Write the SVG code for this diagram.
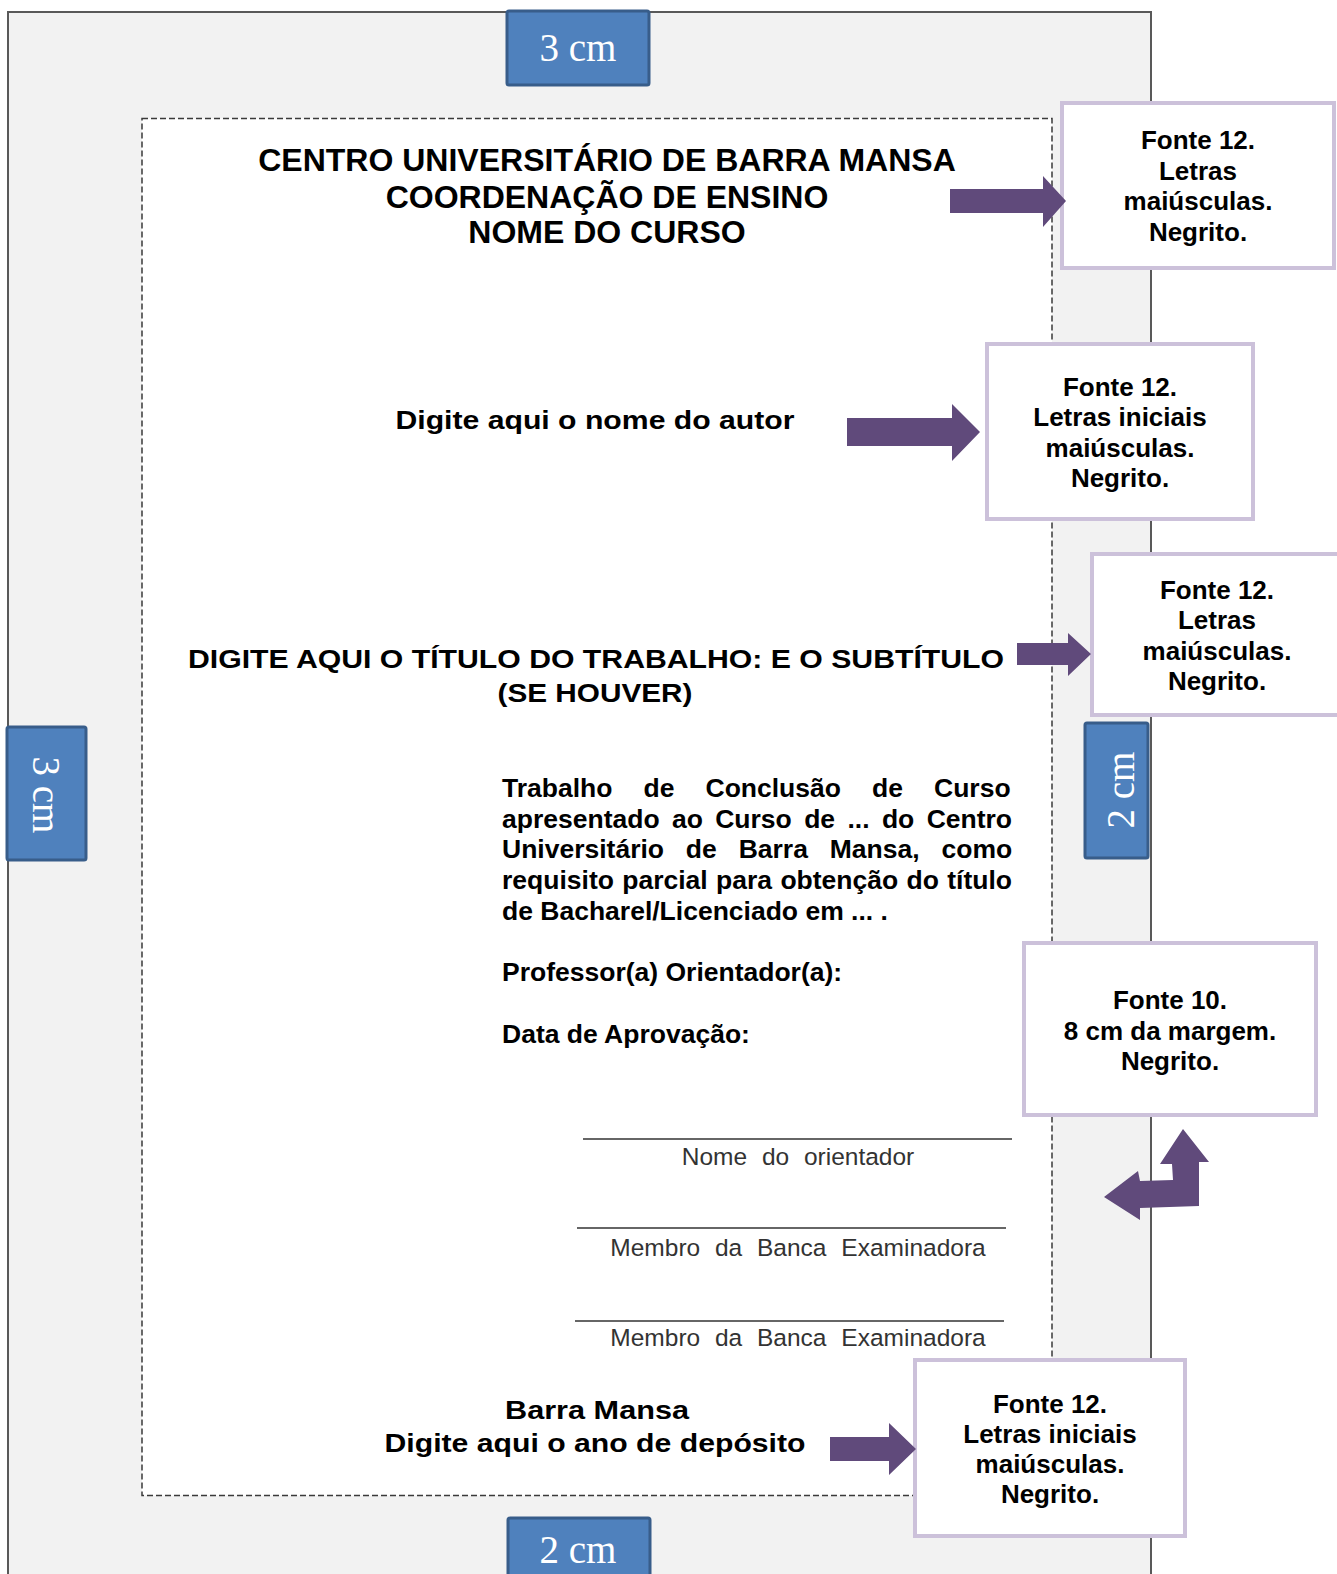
<svg xmlns="http://www.w3.org/2000/svg" width="1337" height="1574" viewBox="0 0 1337 1574">
  <style>
    .page { fill: #f2f2f2; stroke: #595959; stroke-width: 2; }
    .area { fill: #ffffff; stroke: #3a3a3a; stroke-width: 1.5; stroke-dasharray: 6 3; }
    .badge { fill: #4f81bd; stroke: #385d8a; stroke-width: 3; }
    .badge-t { font-family: "Liberation Serif", "Times New Roman", serif; font-size: 39px; fill: #ffffff; text-anchor: middle; }
    .note { fill: #ffffff; stroke: #ccc1da; stroke-width: 4; }
    .note-t { font-family: "Liberation Sans", Arial, sans-serif; font-size: 26px; font-weight: bold; fill: #000; text-anchor: middle; }
    .big { font-family: "Liberation Sans", Arial, sans-serif; font-weight: bold; fill: #000; text-anchor: middle; }
    .body { font-family: "Liberation Sans", Arial, sans-serif; font-size: 26.5px; font-weight: bold; fill: #000; }
    .sig { font-family: "Liberation Sans", Arial, sans-serif; font-size: 24.5px; fill: #333; text-anchor: middle; word-spacing: 8px; }
    .sigline { stroke: #333; stroke-width: 1.5; }
    .arrow { fill: #604a7b; }
  </style>

  <g id="page">
    <rect class="page" x="8" y="12" width="1143" height="1600"/>
    <rect class="area" x="142" y="118.5" width="910" height="1377"/>
  </g>

  <g id="badge-top">
    <rect class="badge" x="507" y="11" width="142" height="74" rx="2"/>
    <text class="badge-t" x="578" y="61">3 cm</text>
  </g>
  <g id="badge-left">
    <rect class="badge" x="7" y="727" width="79" height="133" rx="2"/>
    <text class="badge-t" transform="translate(33,795) rotate(90)" x="0" y="0">3 cm</text>
  </g>
  <g id="badge-right">
    <rect class="badge" x="1085" y="723" width="63" height="135" rx="2"/>
    <text class="badge-t" transform="translate(1134,790) rotate(-90)" x="0" y="0">2 cm</text>
  </g>
  <g id="badge-bottom">
    <rect class="badge" x="508" y="1518" width="142" height="80" rx="2"/>
    <text class="badge-t" x="578" y="1563">2 cm</text>
  </g>

  <g id="header">
    <text class="big" font-size="32" x="607" y="171">CENTRO UNIVERSITÁRIO DE BARRA MANSA</text>
    <text class="big" font-size="32" x="607" y="208">COORDENAÇÃO DE ENSINO</text>
    <text class="big" font-size="32" x="607" y="243">NOME DO CURSO</text>
  </g>

  <g id="author">
    <text class="big" font-size="25.5" x="595" y="429" textLength="399" lengthAdjust="spacingAndGlyphs">Digite aqui o nome do autor</text>
  </g>

  <g id="title">
    <text class="big" font-size="25.5" x="596" y="668" textLength="816" lengthAdjust="spacingAndGlyphs">DIGITE AQUI O TÍTULO DO TRABALHO: E O SUBTÍTULO</text>
    <text class="big" font-size="25.5" x="595" y="702" textLength="195" lengthAdjust="spacingAndGlyphs">(SE HOUVER)</text>
  </g>

  <g id="nature">
    <text class="body" x="502" y="797" word-spacing="23.7">Trabalho de Conclusão de Curso</text>
    <text class="body" x="502" y="828" word-spacing="5">apresentado ao Curso de ... do Centro</text>
    <text class="body" x="502" y="858" word-spacing="14.5">Universitário de Barra Mansa, como</text>
    <text class="body" x="502" y="889" word-spacing="1">requisito parcial para obtenção do título</text>
    <text class="body" x="502" y="920">de Bacharel/Licenciado em ... .</text>
    <text class="body" x="502" y="981">Professor(a) Orientador(a):</text>
    <text class="body" x="502" y="1043">Data de Aprovação:</text>
  </g>

  <g id="signatures">
    <line class="sigline" x1="583" y1="1139" x2="1012" y2="1139"/>
    <text class="sig" x="798" y="1165">Nome do orientador</text>
    <line class="sigline" x1="577" y1="1228" x2="1006" y2="1228"/>
    <text class="sig" x="798" y="1256">Membro da Banca Examinadora</text>
    <line class="sigline" x1="575" y1="1321" x2="1004" y2="1321"/>
    <text class="sig" x="798" y="1346">Membro da Banca Examinadora</text>
  </g>

  <g id="place-year">
    <text class="big" font-size="25.5" x="597" y="1419" textLength="184" lengthAdjust="spacingAndGlyphs">Barra Mansa</text>
    <text class="big" font-size="25.5" x="595" y="1452" textLength="421" lengthAdjust="spacingAndGlyphs">Digite aqui o ano de depósito</text>
  </g>

  <g id="note-header">
    <rect class="note" x="1062" y="103" width="272" height="165"/>
    <text class="note-t" x="1198" y="149">Fonte 12.</text>
    <text class="note-t" x="1198" y="179.5">Letras</text>
    <text class="note-t" x="1198" y="210">maiúsculas.</text>
    <text class="note-t" x="1198" y="240.5">Negrito.</text>
  </g>
  <g id="note-author">
    <rect class="note" x="987" y="344" width="266" height="175"/>
    <text class="note-t" x="1120" y="396">Fonte 12.</text>
    <text class="note-t" x="1120" y="426">Letras iniciais</text>
    <text class="note-t" x="1120" y="456.5">maiúsculas.</text>
    <text class="note-t" x="1120" y="487">Negrito.</text>
  </g>
  <g id="note-title">
    <rect class="note" x="1092" y="554" width="252" height="161"/>
    <text class="note-t" x="1217" y="599">Fonte 12.</text>
    <text class="note-t" x="1217" y="629">Letras</text>
    <text class="note-t" x="1217" y="659.5">maiúsculas.</text>
    <text class="note-t" x="1217" y="690">Negrito.</text>
  </g>
  <g id="note-nature">
    <rect class="note" x="1024" y="943" width="292" height="172"/>
    <text class="note-t" x="1170" y="1009">Fonte 10.</text>
    <text class="note-t" x="1170" y="1040">8 cm da margem.</text>
    <text class="note-t" x="1170" y="1070">Negrito.</text>
  </g>
  <g id="note-year">
    <rect class="note" x="915" y="1360" width="270" height="176"/>
    <text class="note-t" x="1050" y="1413">Fonte 12.</text>
    <text class="note-t" x="1050" y="1442.5">Letras iniciais</text>
    <text class="note-t" x="1050" y="1473">maiúsculas.</text>
    <text class="note-t" x="1050" y="1503">Negrito.</text>
  </g>

  <g id="connectors">
    <polygon class="arrow" points="950,189 1043,189 1043,176 1066,201 1043,227 1043,213 950,213"/>
    <polygon class="arrow" points="847,418 952,418 952,404 980,432 952,461 952,446 847,446"/>
    <polygon class="arrow" points="1017,643 1068,643 1068,633 1091,654 1068,676 1068,665 1017,665"/>
    <polygon class="arrow" points="1183,1129 1209,1162 1199,1162 1199,1206 1140,1208 1140,1220 1104,1197 1138,1171 1140,1181 1173,1180 1172,1164 1160,1164"/>
    <polygon class="arrow" points="830,1437 889,1437 889,1423 916,1449 889,1475 889,1461 830,1461"/>
  </g>
</svg>
